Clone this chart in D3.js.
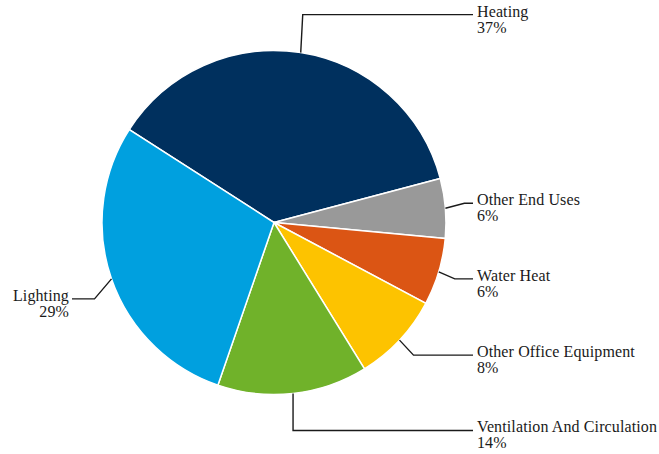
<!DOCTYPE html>
<html>

<head>
  <title>Energy end uses</title>
  <script src="https://cdn.jsdelivr.net/npm/d3@7"></script>
  <style type="text/css">
    body {
      margin: 0;
      background: #fff;
    }

    .slice {
      stroke: #fff;
      stroke-width: 1.5px;
    }

    .leader {
      fill: none;
      stroke: #1a1a1a;
      stroke-width: 1.4px;
    }

    .label {
      font-family: "Liberation Serif", "DejaVu Serif", Tinos, "Times New Roman", serif;
      font-size: 16px;
      letter-spacing: 0.12px;
      fill: #1a1a1a;
    }
  </style>
</head>

<body>
  <div id="chartArea"></div>
  <script type="text/javascript">
    let categories = ['Heating', 'Other End Uses', 'Water Heat', 'Other Office Equipment',
      'Ventilation And Circulation', 'Lighting'];
    let values = [36.8, 5.6, 6.3, 8.4, 14.1, 28.8];
    let colors = ['#00305e', '#999999', '#db5514', '#fdc300', '#70b22a', '#00a0df'];

    // label layout: elbow offset from slice edge, horizontal end x
    let elbowOffset = [[2, -38], [19, -5], [16, 7], [14, 15], [0, 37], [-17, 20]];
    let lineEndX = [473, 473, 473, 473, 473, 72];

    let w = 659;
    let h = 454;
    let cx = 274;
    let cy = 222.5;
    let r = 172;

    let svg = d3.select('#chartArea').append('svg')
      .attr('width', w)
      .attr('height', h);

    let total = d3.sum(values);
    let startDeg = -57.3;

    let pie = d3.pie()
      .sort(null)
      .value(d => d)
      .startAngle(startDeg * Math.PI / 180)
      .endAngle((startDeg + 360) * Math.PI / 180);

    let arcs = pie(values);

    let arc = d3.arc()
      .innerRadius(0)
      .outerRadius(r);

    let edgeArc = d3.arc()
      .innerRadius(r)
      .outerRadius(r);

    let g = svg.append('g')
      .attr('transform', `translate(${cx},${cy})`);

    g.selectAll('path.slice')
      .data(arcs)
      .enter()
      .append('path')
      .attr('class', 'slice')
      .attr('fill', (d, i) => colors[i])
      .attr('d', arc);

    let line = d3.line();

    arcs.forEach((d, i) => {
      let p0 = edgeArc.centroid(d);
      let p1 = [p0[0] + elbowOffset[i][0], p0[1] + elbowOffset[i][1]];
      let p2 = [lineEndX[i] - cx, p1[1]];
      g.append('path')
        .attr('class', 'leader')
        .attr('d', line([p0, p1, p2]));

      let left = lineEndX[i] < cx;
      let tx = left ? p2[0] - 3 : p2[0] + 4;
      let pct = Math.round(values[i] / total * 100) + '%';
      let t = g.append('text')
        .attr('class', 'label')
        .attr('text-anchor', left ? 'end' : 'start');
      t.append('tspan')
        .attr('x', tx)
        .attr('y', p1[1] + 2)
        .text(categories[i]);
      t.append('tspan')
        .attr('x', tx)
        .attr('y', p1[1] + 18)
        .text(pct);
    });
  </script>
</body>

</html>
